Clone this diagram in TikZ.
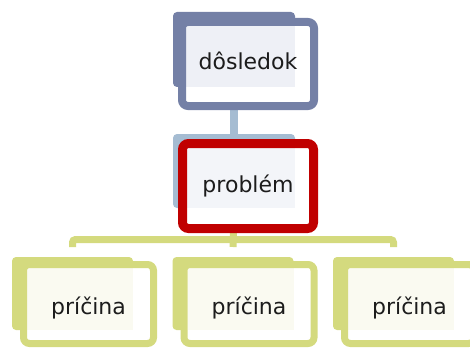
\documentclass[tikz,border=0pt]{standalone}
\usepackage{fontspec}
\setmainfont{DejaVu Sans}
\pgfdeclarelayer{bg}
\pgfsetlayers{bg,main}
\definecolor{slate}{HTML}{7480A6}
\definecolor{toplight}{HTML}{EEF0F6}
\definecolor{probback}{HTML}{A5BCD2}
\definecolor{problight}{HTML}{F3F5F9}
\definecolor{redc}{HTML}{C00000}
\definecolor{greenc}{HTML}{D4DA7E}
\definecolor{botlight}{HTML}{FAFAF1}
\definecolor{txt}{HTML}{1C1C1C}
\begin{document}
\begin{tikzpicture}[x=1pt,y=-1pt,
  backbox/.style={rectangle, rounded corners=4pt, inner sep=0pt, outer sep=0pt},
  frontbox/.style={rectangle, rounded corners=6pt, inner sep=0pt, outer sep=0pt,
     font=\fontsize{22}{26}\selectfont, text=txt, text height=16pt, text depth=4pt},
  bottombox/.style={frontbox, draw=greenc, line width=7pt, minimum width=130pt,
     minimum height=79pt, text height=21pt, text depth=1pt},
  whitefill/.style={fill=white, rounded corners=6pt},
  vconn/.style={draw=probback, line width=8pt},
  forkline/.style={draw=greenc, line width=7pt, rounded corners=3pt}]
\useasboundingbox (0,0) rectangle (470,350);
\clip (0,0) rectangle (470,350);
% top: dosledok
\node[backbox, fill=slate, minimum width=122pt, minimum height=75pt] (dosB) at (234,49.5) {};
\fill[whitefill] (182,22) rectangle (314,106);
\fill[toplight] (186,26) rectangle (295,87);
\node[frontbox, draw=slate, line width=8pt, minimum width=132pt, minimum height=84pt] (dos) at (248,64) {dôsledok};
% middle: problem
\node[backbox, fill=probback, minimum width=122pt, minimum height=74pt] (probB) at (234,171) {};
\fill[whitefill] (182.5,143.5) rectangle (313.5,228.5);
\fill[problight] (187,148) rectangle (295,208);
\node[frontbox, draw=redc, line width=9pt, minimum width=131pt, minimum height=85pt] (prob) at (248,186) {problém};
% bottom: priciny
\foreach \k/\nm in {0/ca,1/cb,2/cc}{
  \begin{scope}[xshift=\k*160.5pt]
    \node[backbox, fill=greenc, minimum width=121pt, minimum height=73pt] (\nm B) at (72.5,293.5) {};
    \fill[whitefill] (23.5,264.5) rectangle (153.5,343.5);
    \fill[botlight] (27,268) rectangle (133,330);
    \node[bottombox] (\nm) at (88.5,304) {príčina};
  \end{scope}
}
\coordinate (fork) at (233,239.5);
\begin{pgfonlayer}{bg}
  \draw[vconn] (dosB.south) -- (probB.north);
  \draw[forkline] ([yshift=10pt]caB.north) -- (caB.north |- fork) -- (ccB.north |- fork) -- ([yshift=10pt]ccB.north);
  \draw[forkline, rounded corners=0pt] (probB.south) -- ([yshift=10pt]cbB.north);
\end{pgfonlayer}
\end{tikzpicture}
\end{document}
